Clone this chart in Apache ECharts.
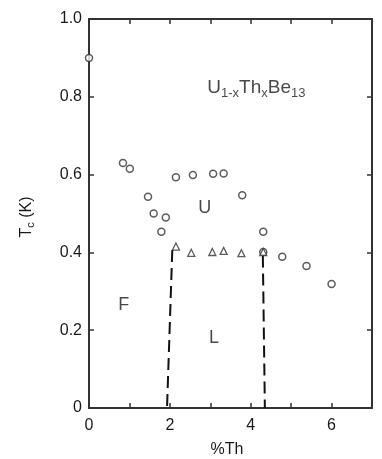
<!DOCTYPE html>
<html>
<head>
<meta charset="utf-8">
<script src="https://cdn.jsdelivr.net/npm/echarts@6/dist/echarts.min.js"></script>
<style>html,body{margin:0;padding:0;background:#fff;}#c{width:382px;height:459px;}</style>
</head>
<body>
<div id="c"></div>
<script>
// x = %Th, y = Tc (K)
const circlePoints = [
  [0.00, 0.900], [0.84, 0.630], [1.01, 0.615], [2.15, 0.593], [2.57, 0.599],
  [3.07, 0.602], [3.33, 0.603], [1.46, 0.543], [3.79, 0.547], [1.60, 0.500],
  [1.90, 0.490], [1.79, 0.453], [4.31, 0.453], [4.31, 0.401], [4.78, 0.389],
  [5.38, 0.365], [6.00, 0.319]
];
const trianglePoints = [
  [2.15, 0.415], [2.53, 0.399], [3.05, 0.401], [3.33, 0.404], [3.77, 0.398], [4.31, 0.401]
];
const leftBoundary = [[2.06, 0.406], [1.93, 0.0]];
const rightBoundary = [[4.30, 0.392], [4.35, 0.0]];
const regionNames = ['U', 'F', 'L'];
const regionX = [2.86, 0.86, 3.09];
const regionY = [0.515, 0.265, 0.179];
const titleX = 4.14, titleY = 0.823;
const xTickLabels = ['0', '2', '4', '6'];
const yTickLabels = ['0', '0.2', '0.4', '0.6', '0.8', '1.0'];

const FONT = "'Liberation Sans', Arial, Helvetica, sans-serif";
const INK = '#1a1a1a';
const chart = echarts.init(document.getElementById('c'), null, {renderer: 'canvas'});

const axisLine = {show: true, onZero: false, lineStyle: {color: '#333', width: 2}};
const tick = {show: true, inside: true, length: 5, lineStyle: {color: '#333', width: 1.5}};

chart.setOption({
  animation: false,
  backgroundColor: '#fff',
  grid: {left: 89, right: 10, top: 19, bottom: 51, containLabel: false},
  xAxis: [
    {type: 'value', min: 0, max: 7, interval: 1, axisLine, axisTick: tick, splitLine: {show: false},
     axisLabel: {margin: 10, color: INK, fontFamily: FONT, fontSize: 16,
       formatter: v => xTickLabels.indexOf(String(v)) >= 0 ? String(v) : ''}},
    {type: 'value', position: 'top', min: 0, max: 7, interval: 1, axisLine, axisTick: tick,
     splitLine: {show: false}, axisLabel: {show: false}}
  ],
  yAxis: [
    {type: 'value', min: 0, max: 1, interval: 0.2, axisLine, axisTick: tick, splitLine: {show: false},
     axisLabel: {margin: 7, color: INK, fontFamily: FONT, fontSize: 16,
       formatter: v => yTickLabels[Math.round(v / 0.2)]}},
    {type: 'value', position: 'right', min: 0, max: 1, interval: 0.2, axisLine, axisTick: tick,
     splitLine: {show: false}, axisLabel: {show: false}}
  ],
  graphic: [
    {type: 'text', x: 27, y: 217, rotation: Math.PI / 2,
     style: {text: 'T{s|c} (K)', align: 'center', verticalAlign: 'middle', fill: INK,
       font: '16px ' + FONT,
       rich: {s: {fontSize: 11, fontFamily: FONT, fill: INK, padding: [8, 0, 0, 0]}}}},
    {type: 'text', x: 227, y: 450,
     style: {text: '%Th', align: 'center', verticalAlign: 'middle', fill: INK, font: '16px ' + FONT}}
  ],
  series: [
    {type: 'line', data: leftBoundary, symbol: 'none', z: 1,
     lineStyle: {color: '#111', width: 2, type: [12, 6]}},
    {type: 'line', data: rightBoundary, symbol: 'none', z: 1,
     lineStyle: {color: '#111', width: 2, type: [12, 6]}},
    {type: 'scatter', data: circlePoints, symbol: 'circle', symbolSize: 7, z: 3,
     itemStyle: {color: '#fff', borderColor: '#333', borderWidth: 1.5}},
    {type: 'scatter', data: trianglePoints, symbol: 'triangle', symbolSize: 7, z: 3,
     itemStyle: {color: '#fff', borderColor: '#333', borderWidth: 1.3}},
    {type: 'scatter', symbolSize: 0, z: 4, silent: true,
     data: regionNames.map((n, i) => ({name: n, value: [regionX[i], regionY[i]]})),
     label: {show: true, position: 'inside', formatter: p => p.name, color: INK,
       fontFamily: FONT, fontSize: 18}},
    {type: 'scatter', symbolSize: 0, z: 4, silent: true,
     data: [{name: 'title', value: [titleX, titleY]}],
     label: {show: true, position: 'inside', color: INK, fontFamily: FONT,
       formatter: 'U{s|1-x}Th{s|x}Be{s|13}',
       fontSize: 19, padding: 0,
       rich: {s: {fontSize: 13, fontFamily: FONT, color: INK, padding: [11, 0, 0, 0], verticalAlign: 'top'}}}}
  ]
});
</script>
</body>
</html>
